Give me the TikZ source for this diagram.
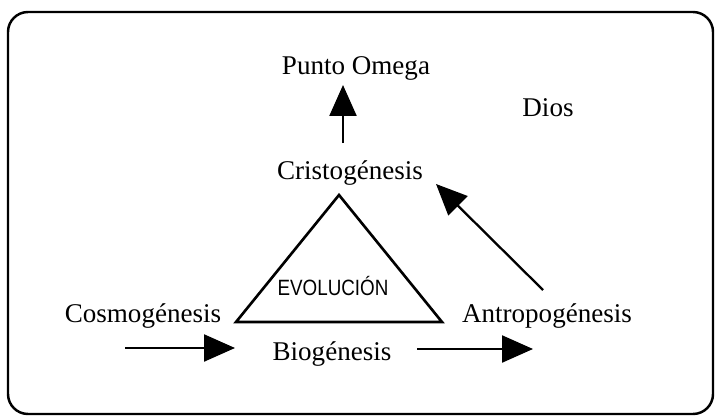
\documentclass[tikz,border=0pt]{standalone}
\usepackage{fontspec}
\setmainfont{Liberation Serif}
\setsansfont{Liberation Sans}
\usetikzlibrary{arrows.meta}
\tikzset{
  etiqueta/.style={font=\fontsize{15.4}{18}\selectfont, inner sep=0pt},
  flecha/.style={-{Triangle[length=0.62cm,width=0.54cm]}, line width=1.3pt},
}
\begin{document}
\begin{tikzpicture}[x=0.02cm, y=-0.02cm]
  \useasboundingbox (0,0) rectangle (715,415);
  % marco
  \draw[line width=1.4pt, rounded corners=0.4cm] (8,12) rectangle (713,414);
  % textos
  \node[etiqueta] (omega) at (356,68) {Punto Omega};
  \node[etiqueta] (dios) at (548,108) {Dios};
  \node[etiqueta] (cristo) at (350,173) {Cristogénesis};
  \node[etiqueta] (cosmo) at (143,316) {Cosmogénesis};
  \node[etiqueta] (antro) at (547,316) {Antropogénesis};
  \node[etiqueta] (bio) at (332,354) {Biogénesis};
  % triangulo
  \coordinate (cima) at (339,195);
  \coordinate (baseL) at (236,322);
  \coordinate (baseR) at (442,322);
  \draw[line width=1.5pt, line join=miter] (cima) -- (baseL) -- (baseR) -- cycle;
  \node[font=\sffamily\fontsize{12.6}{14}\selectfont, inner sep=0pt, xscale=0.85, transform shape]
    (evol) at (333,286) {EVOLUCIÓN};
  % flechas
  \coordinate (c1) at (343,143); \coordinate (o1) at (343,85);
  \coordinate (a1) at (543,290); \coordinate (c2) at (436,184);
  \coordinate (k1) at (125,348); \coordinate (b1) at (235,348);
  \coordinate (b2) at (417,349); \coordinate (a2) at (533,349);
  \draw[flecha] (c1) -- (o1);
  \draw[flecha] (a1) -- (c2);
  \draw[flecha] (k1) -- (b1);
  \draw[flecha] (b2) -- (a2);
\end{tikzpicture}
\end{document}
